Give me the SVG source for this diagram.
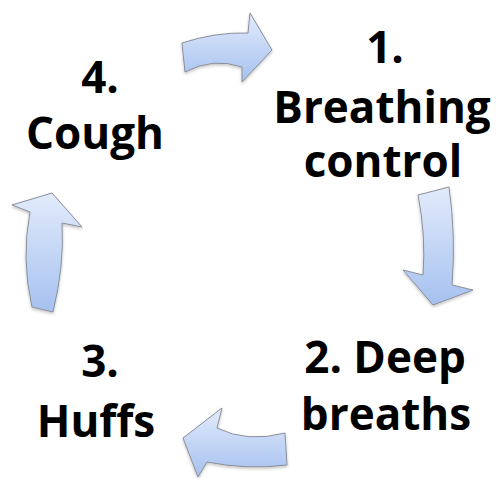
<svg xmlns="http://www.w3.org/2000/svg" width="496" height="478" viewBox="0 0 496 478">
<defs>
<linearGradient id="g" x1="0" y1="0" x2="0" y2="1">
<stop offset="0" stop-color="#e2ebfb"/>
<stop offset="1" stop-color="#a6c1f0"/>
</linearGradient>
<filter id="sh" x="-20%" y="-20%" width="140%" height="140%">
<feDropShadow dx="0" dy="1.5" stdDeviation="1.5" flood-color="#000" flood-opacity="0.25"/>
</filter>
</defs>
<style>
.arr{fill:url(#g);stroke:#8a8f9a;stroke-width:1;stroke-linejoin:miter;filter:url(#sh)}
.t{font-family:"Open Sans","Liberation Sans",sans-serif;font-weight:bold;font-size:44px;fill:#000;text-anchor:middle}
</style>
<rect width="496" height="478" fill="#fff"/>
<g id="connectors">
<path class="arr" d="M182,43 Q215,32 248,33 L250,13 L272,50 L242,82 L242,67 Q213,57 185,72 Z"/>
<path class="arr" d="M418,195 L449,187 Q456,236 452,285 L473,290 L433,305 L403,270 L423,275 Q426,235 418,195 Z"/>
<path class="arr" d="M285,433 L287,465 Q247,470 207,462 L198,477 L183,438 L222,408 L217,428 Q247,443 285,433 Z"/>
<path class="arr" d="M32,307 L53,312 Q64.5,265 62,223 L82,227 L52,193 L12,205 L30,212 Q21,259 32,307 Z"/>
</g>
<g id="node1">
<text class="t" x="385" y="63">1.</text>
<text class="t" x="382" y="123">Breathing</text>
<text class="t" x="383" y="177">control</text>
</g>
<g id="node2">
<text class="t" x="385" y="373">2. Deep</text>
<text class="t" x="386" y="430">breaths</text>
</g>
<g id="node3">
<text class="t" x="100" y="377">3.</text>
<text class="t" x="96" y="437">Huffs</text>
</g>
<g id="node4">
<text class="t" x="100" y="93">4.</text>
<text class="t" x="95" y="149">Cough</text>
</g>
</svg>
